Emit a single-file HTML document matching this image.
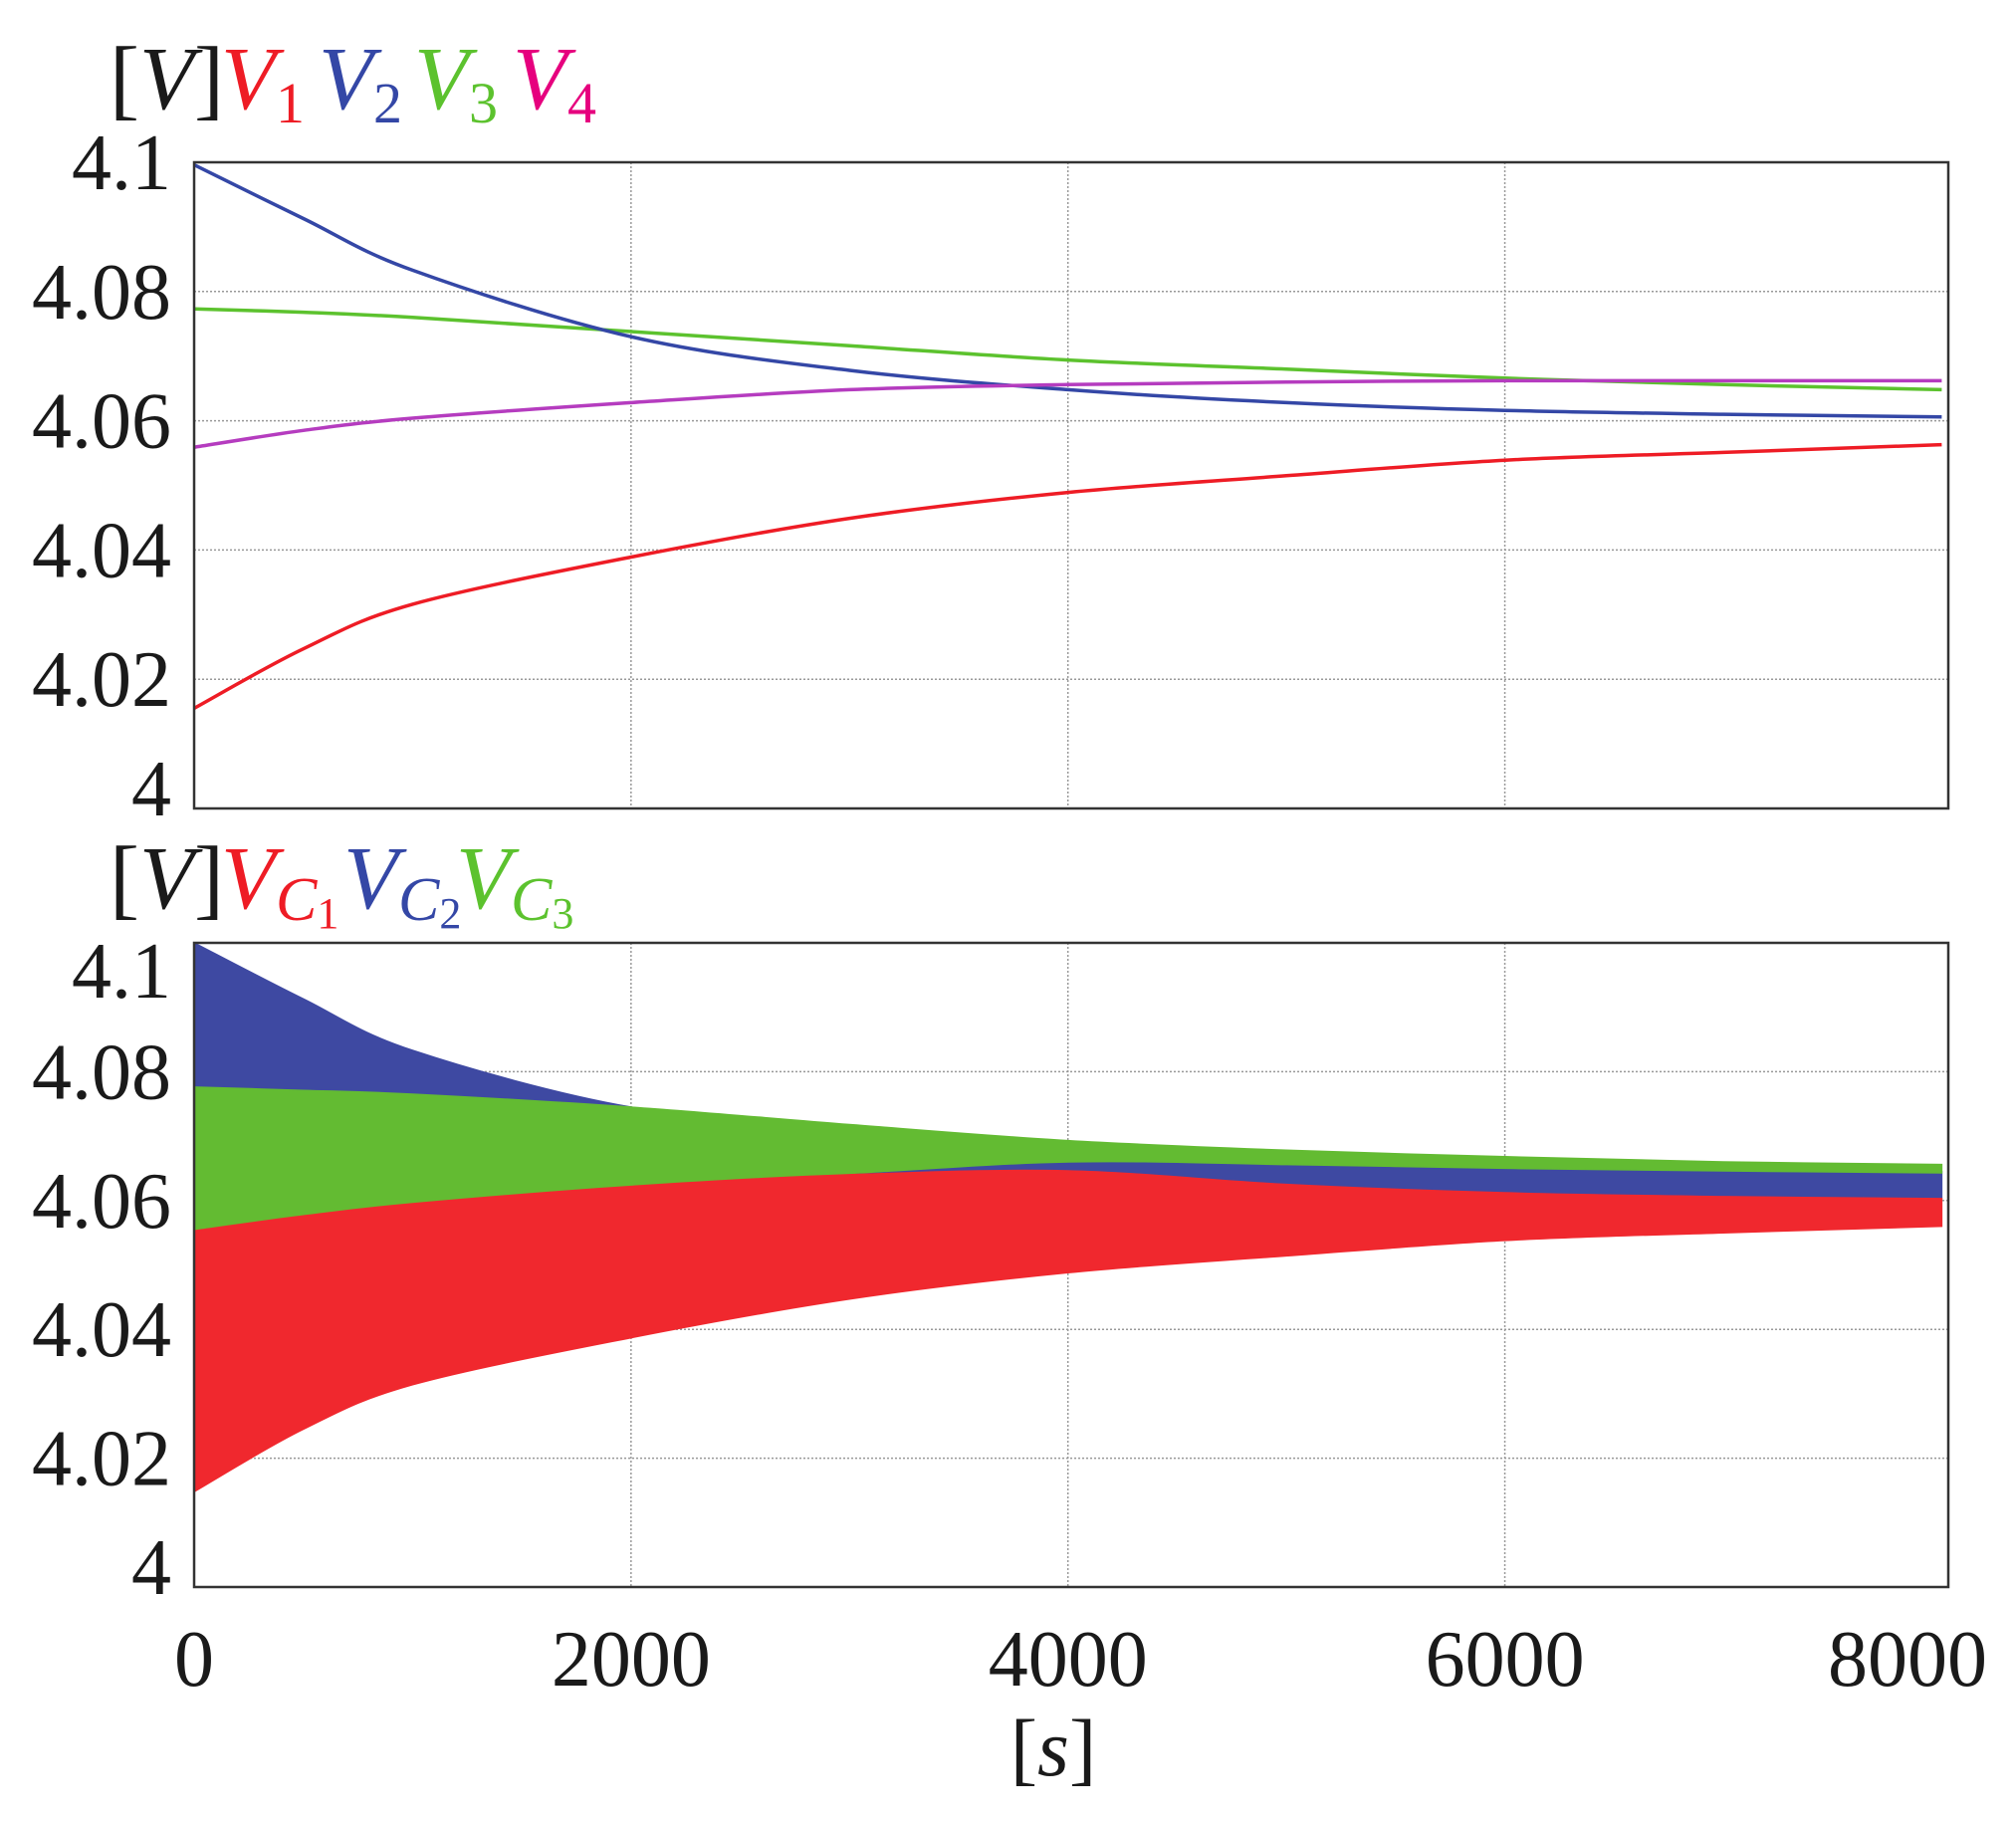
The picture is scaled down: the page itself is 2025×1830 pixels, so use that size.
<!DOCTYPE html>
<html><head><meta charset="utf-8"><style>
html,body{margin:0;padding:0;background:#fff;}
svg{display:block;}
text{font-family:"Liberation Serif",serif;fill:#1a1a1a;}
</style></head><body>
<svg id="chart" width="2025" height="1830" viewBox="0 0 2025 1830" xmlns="http://www.w3.org/2000/svg">
  <g font-size="90">
    <text x="110" y="109" font-style="normal">[<tspan font-style="italic">V</tspan>]</text>
    <text x="222" y="109" style="fill:#ee1c25" font-style="italic">V<tspan font-style="normal" font-size="58" dy="14">1</tspan></text>
    <text x="320" y="109" style="fill:#3447a6" font-style="italic">V<tspan font-style="normal" font-size="58" dy="14">2</tspan></text>
    <text x="416" y="109" style="fill:#5cc22e" font-style="italic">V<tspan font-style="normal" font-size="58" dy="14">3</tspan></text>
    <text x="515" y="109" style="fill:#e6007e" font-style="italic">V<tspan font-style="normal" font-size="58" dy="14">4</tspan></text>
  </g>
  <g font-size="90">
    <text x="110" y="912">[<tspan font-style="italic">V</tspan>]</text>
    <text x="222" y="912" style="fill:#ee1c25" font-style="italic">V<tspan font-size="62" dy="12">C</tspan><tspan font-style="normal" font-size="44" dy="8">1</tspan></text>
    <text x="345" y="912" style="fill:#3447a6" font-style="italic">V<tspan font-size="62" dy="12">C</tspan><tspan font-style="normal" font-size="44" dy="8">2</tspan></text>
    <text x="458" y="912" style="fill:#5cc22e" font-style="italic">V<tspan font-size="62" dy="12">C</tspan><tspan font-style="normal" font-size="44" dy="8">3</tspan></text>
  </g>
  <g id="top"></g>
  <g id="bot"></g>
  <g id="xlabels"></g>
  <text x="1058" y="1783" font-size="82" text-anchor="middle">[<tspan font-style="italic">s</tspan>]</text>
</svg>
<script>
const times = [0, 500, 1000, 2000, 3000, 4000, 5000, 6000, 7000, 8000];
const v1 = [4.0155, 4.0247, 4.0316, 4.0389, 4.0449, 4.0489, 4.0515, 4.0539, 4.0551, 4.0563];
const v2 = [4.0996, 4.0913, 4.0833, 4.0730, 4.0678, 4.0648, 4.0628, 4.0616, 4.0610, 4.0606];
const v3 = [4.0773, 4.0768, 4.0760, 4.0738, 4.0716, 4.0694, 4.0680, 4.0666, 4.0656, 4.0648];
const v4 = [4.0559, 4.0585, 4.0604, 4.0628, 4.0648, 4.0656, 4.0660, 4.0662, 4.0662, 4.0662];
const vc1Low = [4.0148, 4.0245, 4.0314, 4.0387, 4.0447, 4.0488, 4.0514, 4.0538, 4.0550, 4.0560];
const vc1High = [4.0553, 4.0576, 4.0595, 4.0622, 4.0640, 4.0646, 4.0625, 4.0612, 4.0606, 4.0603];
const vc2High = [4.1000, 4.0913, 4.0833, 4.0745, 4.0715, 4.0690, 4.0673, 4.0662, 4.0652, 4.0645];
const vc3Low = [4.0553, 4.0576, 4.0595, 4.0622, 4.0642, 4.0660, 4.0656, 4.0650, 4.0646, 4.0643];
const vc3High = [4.0776, 4.0771, 4.0765, 4.0745, 4.0718, 4.0693, 4.0678, 4.0668, 4.0660, 4.0656];
const yTicks = [4, 4.02, 4.04, 4.06, 4.08, 4.1];
const yTickLabels = ["4", "4.02", "4.04", "4.06", "4.08", "4.1"];
const xTicks = [0, 2000, 4000, 6000, 8000];
const xTickLabels = ["0", "2000", "4000", "6000", "8000"];

const NS = "http://www.w3.org/2000/svg";
const X0 = 195, X1 = 1957, XMAX = 8030;
function xs(t){ return X0 + (t / XMAX) * (X1 - X0); }
function mk(tag, attrs, parent){ const e = document.createElementNS(NS, tag); for (const k in attrs) e.setAttribute(k, attrs[k]); parent.appendChild(e); return e; }

function plot(g, top, bottom){
  const ys = v => bottom - (v - 4) / 0.1 * (bottom - top);
  xTicks.forEach((t, i) => {
    if (i === 0 || i === xTicks.length - 1) return;
    const l = mk('line', {x1: xs(t), x2: xs(t), y1: top, y2: bottom, stroke: '#999', 'stroke-width': 1.5, 'stroke-dasharray': '2,2'}, g);
    
    
  });
  yTicks.forEach((v, i) => {
    if (i === 0) return;
    const l = mk('line', {x1: X0, x2: X1, y1: ys(v), y2: ys(v), stroke: '#999', 'stroke-width': 1.5, 'stroke-dasharray': '2,2'}, g);
    
    
  });
  yTicks.forEach((v, i) => {
    let off = 0;
    if (i === 0) off = -20;
    if (i === yTicks.length - 1 && top > 500) off = 28;
    const tx = mk('text', {x: 172, y: ys(v) + off + 27, 'font-size': 80, 'text-anchor': 'end'}, g);
    tx.textContent = yTickLabels[i];
    
    
  });
  return ys;
}
function pts(arr, ys){ return arr.map((v, i) => [xs(times[i]), ys(v)]); }
function smooth(p, start){
  let d = (start ? 'M' : 'L') + p[0][0].toFixed(1) + ',' + p[0][1].toFixed(1);
  for (let i = 0; i < p.length - 1; i++) {
    const p0 = p[Math.max(0, i - 1)], p1 = p[i], p2 = p[i + 1], p3 = p[Math.min(p.length - 1, i + 2)];
    const c1 = [p1[0] + (p2[0] - p0[0]) / 6, p1[1] + (p2[1] - p0[1]) / 6];
    const c2 = [p2[0] - (p3[0] - p1[0]) / 6, p2[1] - (p3[1] - p1[1]) / 6];
    d += 'C' + c1[0].toFixed(1) + ',' + c1[1].toFixed(1) + ' ' + c2[0].toFixed(1) + ',' + c2[1].toFixed(1) + ' ' + p2[0].toFixed(1) + ',' + p2[1].toFixed(1);
  }
  return d;
}
function linePath(arr, ys){ return smooth(pts(arr, ys), true); }
function bandPath(lo, hi, ys){
  return smooth(pts(hi, ys), true) + smooth(pts(lo, ys).reverse(), false) + 'Z';
}

const gt = document.getElementById('top');
const yt = plot(gt, 163, 812);
[[v3, '#5cc22e', 'line-v3'], [v2, '#3447a6', 'line-v2'], [v4, '#b53cbf', 'line-v4'], [v1, '#ee1c25', 'line-v1']].forEach(s => {
  const p = mk('path', {d: linePath(s[0], yt), fill: 'none', stroke: s[1], 'stroke-width': 3.5}, gt);
  
  
});
const ft = mk('rect', {x: X0, y: 163, width: X1 - X0, height: 812 - 163, fill: 'none', stroke: '#333', 'stroke-width': 2.5}, gt);



const gb = document.getElementById('bot');
const yb = plot(gb, 947, 1594);
const bands = [[vc1High, vc2High, '#3e49a2', 'band-vc2'], [vc3Low, vc3High, '#63bb32', 'band-vc3'], [vc1Low, vc1High, '#f0282e', 'band-vc1']];
bands.forEach(b => {
  const p = mk('path', {d: bandPath(b[0], b[1], yb), fill: b[2], stroke: b[2], 'stroke-width': 1.5}, gb);
  
  
});
const fb = mk('rect', {x: X0, y: 947, width: X1 - X0, height: 1594 - 947, fill: 'none', stroke: '#333', 'stroke-width': 2.5}, gb);



const gx = document.getElementById('xlabels');
xTicks.forEach((t, i) => {
  const last = i === xTicks.length - 1;
  const tx = mk('text', {x: last ? 1996 : xs(t), y: 1693, 'font-size': 80, 'text-anchor': last ? 'end' : 'middle'}, gx);
  tx.textContent = xTickLabels[i];
  
  
});
</script>
</body></html>
